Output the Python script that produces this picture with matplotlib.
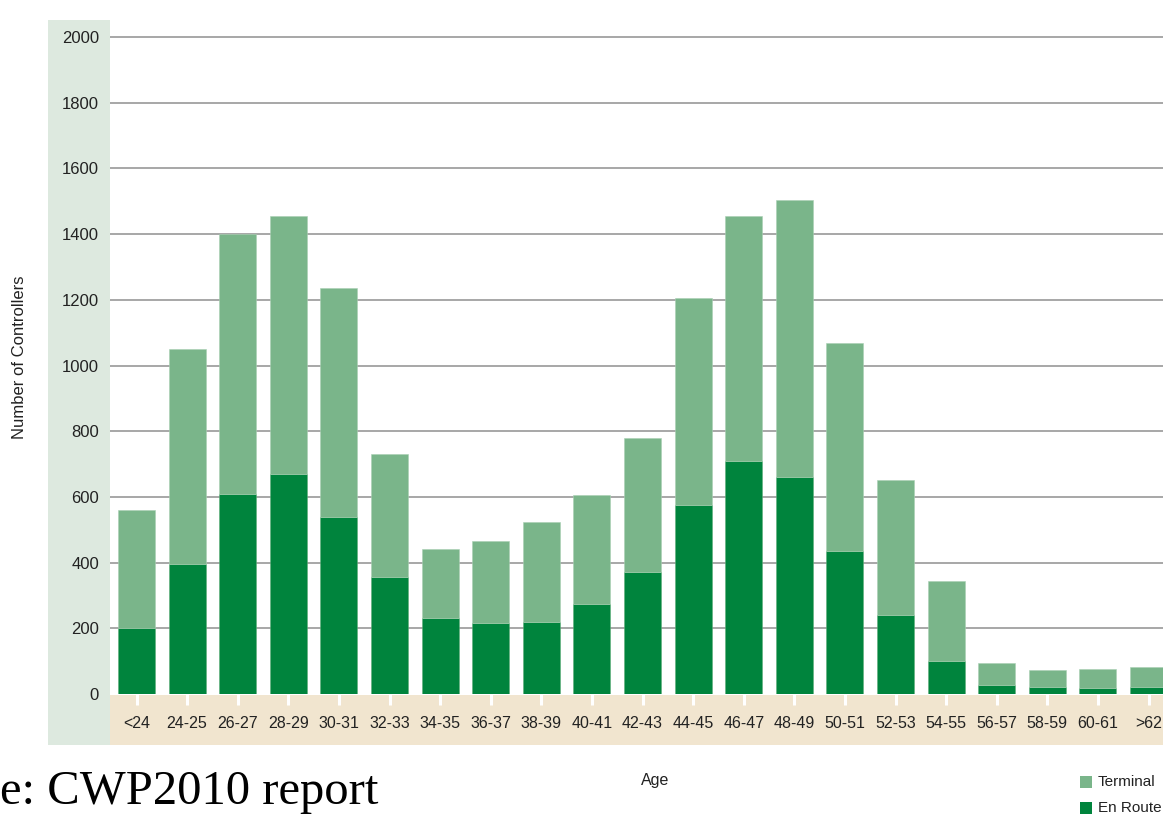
import matplotlib
matplotlib.use("Agg")
import matplotlib.pyplot as plt
from matplotlib.patches import Rectangle
import numpy as np

categories = ["<24", "24-25", "26-27", "28-29", "30-31", "32-33", "34-35", "36-37",
              "38-39", "40-41", "42-43", "44-45", "46-47", "48-49", "50-51", "52-53",
              "54-55", "56-57", "58-59", "60-61", ">62"]
en_route = [200, 395, 610, 670, 540, 355, 230, 215, 220, 275, 370, 575, 710, 660, 435, 240, 100, 27, 22, 18, 22]
terminal = [360, 655, 790, 785, 695, 375, 210, 250, 305, 330, 410, 630, 745, 845, 635, 410, 245, 68, 51, 59, 60]
y_ticks = [0, 200, 400, 600, 800, 1000, 1200, 1400, 1600, 1800, 2000]

W, H = 1163, 815
fig = plt.figure(figsize=(W / 100, H / 100), dpi=100)
plt.rcParams['font.family'] = ['Liberation Sans', 'DejaVu Sans']

def fx(px):
    return px / W

def fy(py):
    return 1 - py / H

# background strips (behind the axes)
fig.patches.append(Rectangle((fx(48), fy(745)), fx(110) - fx(48), fy(20) - fy(745),
                             transform=fig.transFigure, facecolor="#dde9df", edgecolor="none", zorder=-2))
fig.patches.append(Rectangle((fx(110), fy(745)), 1 - fx(110), fy(695) - fy(745),
                             transform=fig.transFigure, facecolor="#f1e5cf", edgecolor="none", zorder=-2))

ax = fig.add_axes([fx(110), fy(694), 1 - fx(110), fy(20) - fy(694)])
ax.set_facecolor("none")

x = np.arange(len(categories))
dark = "#00843d"
light = "#7ab58a"
ax.bar(x, en_route, width=0.73, color=dark, edgecolor="#5fae7a", linewidth=0.4, zorder=3)
ax.bar(x, terminal, bottom=en_route, width=0.73, color=light, edgecolor="#a9d0b3", linewidth=0.4, zorder=3)

step = 50.6
ax.set_xlim((110 - 136.5) / step, (1163 - 136.5) / step)
ymax = 2000 * (694 - 20) / 657
ax.set_ylim(0, ymax)

ax.set_yticks(y_ticks)
ax.set_yticklabels([str(v) for v in y_ticks], fontsize=12, color="#222222")
ax.tick_params(axis="y", length=0, pad=8)
for v in y_ticks[1:]:
    ax.axhline(v, color="#a0a0a0", linewidth=1.3, zorder=1)

ax.set_xticks(x)
ax.set_xticklabels(categories, fontsize=11.5, color="#222222")
ax.tick_params(axis="x", length=8, width=2.2, color="white", pad=8, direction="out")

for s in ax.spines.values():
    s.set_visible(False)

fig.text(fx(20), fy(357), "Number of Controllers", rotation=90, ha="center", va="center",
         fontsize=12, color="#222222")
fig.text(fx(655), fy(780), "Age", ha="center", va="center", fontsize=11.5, color="#222222")

# legend
for py, col, lab in [(782, light, "Terminal"), (808, dark, "En Route")]:
    fig.patches.append(Rectangle((fx(1080), fy(py + 6)), fx(12), fy(0) - fy(12),
                                 transform=fig.transFigure, facecolor=col, edgecolor="none"))
    fig.text(fx(1098), fy(py), lab, ha="left", va="center", fontsize=11, color="#222222")

fig.text(0, fy(792), "e: CWP2010 report", ha="left", va="center", fontsize=35,
         family=["Liberation Serif", "DejaVu Serif"], color="black")

fig.savefig("out.png", dpi=100)
